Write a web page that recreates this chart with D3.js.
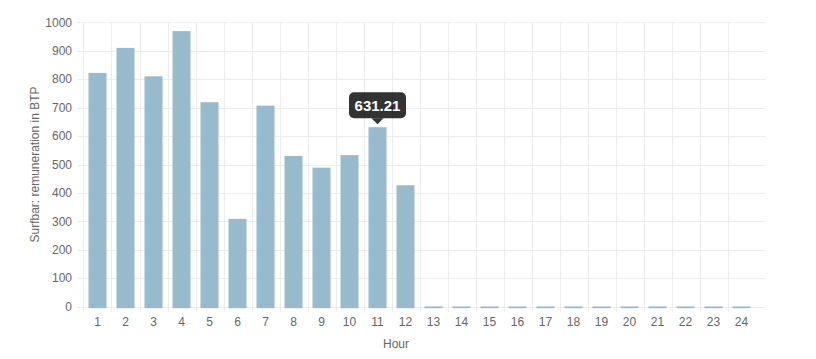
<!DOCTYPE html>
<html>
<head>
<meta charset="utf-8">
<script src="https://cdn.jsdelivr.net/npm/d3@7"></script>
<style>
  html, body { margin: 0; padding: 0; background: #fff; }
  svg { display: block; }
  text { font-family: "Liberation Sans", Arial, Helvetica, sans-serif; }
</style>
</head>
<body>
<svg id="chart" width="816" height="359"></svg>
<script>
const hours = ["1","2","3","4","5","6","7","8","9","10","11","12","13","14","15","16","17","18","19","20","21","22","23","24"];
const remuneration = [822, 910, 810, 969, 719, 309, 707, 530, 489, 533, 631.21, 427, 1, 1, 1, 1, 1, 1, 1, 1, 1, 1, 1, 1];
const yTicks = [0, 100, 200, 300, 400, 500, 600, 700, 800, 900, 1000];
const tooltipIndex = 10;
const yTitle = "Surfbar: remuneration in BTP";
const xTitle = "Hour";

(function () {
const svg = d3.select("#chart");
const plotLeft = 83.5, plotRight = 755.5, plotTop = 22.3, plotBottom = 306.7;
const gridRight = 765;

const x = d3.scaleBand().domain(hours).range([plotLeft, plotRight]).paddingInner(0.357).paddingOuter(0.1785);
const y = d3.scaleLinear().domain([0, 1000]).range([plotBottom, plotTop]);
const step = x.step();

const gridColor = "#ececec";

// horizontal gridlines
svg.append("g").selectAll("line").data(yTicks).join("line")
  .attr("x1", plotLeft - 6).attr("x2", gridRight)
  .attr("y1", d => Math.round(y(d)) + 0.5).attr("y2", d => Math.round(y(d)) + 0.5)
  .attr("stroke", gridColor).attr("stroke-width", 1);

// vertical gridlines (left boundary of each category)
svg.append("g").selectAll("line").data(hours).join("line")
  .attr("x1", d => Math.round(x(d) - (step - x.bandwidth()) / 2) + 0.5)
  .attr("x2", d => Math.round(x(d) - (step - x.bandwidth()) / 2) + 0.5)
  .attr("y1", plotTop).attr("y2", plotBottom + 5)
  .attr("stroke", gridColor).attr("stroke-width", 1);

// bars
svg.append("g").selectAll("rect").data(remuneration).join("rect")
  .attr("x", (d, i) => x(hours[i]))
  .attr("width", x.bandwidth())
  .attr("y", d => y(d))
  .attr("height", d => y(0) - y(d) + 1.5)
  .attr("fill", "rgb(151,187,205)");

// y tick labels
svg.append("g").selectAll("text").data(yTicks).join("text")
  .attr("x", 72).attr("y", d => y(d))
  .attr("dy", "0.35em")
  .attr("text-anchor", "end")
  .attr("font-size", 12).attr("fill", "#666")
  .text(d => d);

// x tick labels
svg.append("g").selectAll("text").data(hours).join("text")
  .attr("x", d => x(d) + x.bandwidth() / 2)
  .attr("y", 325.5)
  .attr("text-anchor", "middle")
  .attr("font-size", 12).attr("fill", "#666")
  .text(d => d);

// axis titles
svg.append("text")
  .attr("transform", `translate(39,${(plotTop + plotBottom) / 2}) rotate(-90)`)
  .attr("text-anchor", "middle")
  .attr("font-size", 12).attr("fill", "#666")
  .text(yTitle);

svg.append("text")
  .attr("x", 396).attr("y", 347.5)
  .attr("text-anchor", "middle")
  .attr("font-size", 12).attr("fill", "#666")
  .text(xTitle);

// tooltip
const tv = remuneration[tooltipIndex];
const tx = x(hours[tooltipIndex]) + x.bandwidth() / 2;
const tipY = y(tv) - 3;
const boxW = 57, boxH = 26, caret = 6;
const tip = svg.append("g");
tip.append("rect")
  .attr("x", tx - boxW / 2).attr("y", tipY - caret - boxH)
  .attr("width", boxW).attr("height", boxH)
  .attr("rx", 5).attr("fill", "rgba(0,0,0,0.8)");
tip.append("path")
  .attr("d", `M${tx - caret},${tipY - caret} L${tx},${tipY} L${tx + caret},${tipY - caret} Z`)
  .attr("fill", "rgba(0,0,0,0.8)");
tip.append("text")
  .attr("x", tx).attr("y", tipY - caret - boxH / 2)
  .attr("dy", "0.36em")
  .attr("text-anchor", "middle")
  .attr("font-size", 15).attr("font-weight", "bold").attr("fill", "#fff")
  .text(d3.format(".2f")(tv));
})();
</script>
</body>
</html>
